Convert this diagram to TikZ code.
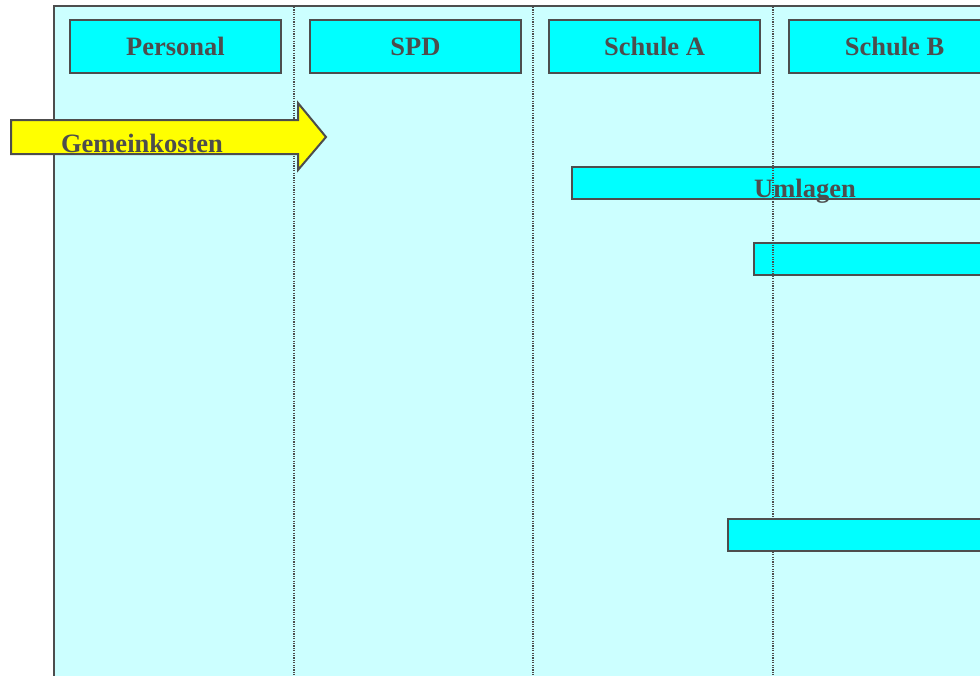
\documentclass[tikz,border=0pt]{standalone}
\usepackage{fontspec}
\setmainfont{Liberation Serif}
\definecolor{panel}{HTML}{CCFFFF}
\definecolor{boxcyan}{HTML}{00FFFF}
\definecolor{ink}{HTML}{4D4D4D}
\definecolor{arrowyellow}{HTML}{FFFF00}
\tikzset{
  lanebox/.style={draw=ink, line width=2pt, fill=boxcyan, rectangle, minimum width=211pt, minimum height=53pt, inner sep=0pt, anchor=north west,
    font=\fontsize{26.5}{30}\selectfont\bfseries, text=ink},
  bar/.style={draw=ink, line width=2pt, fill=boxcyan, rectangle, minimum height=32pt, inner sep=0pt, anchor=north west},
  lbl/.style={font=\fontsize{26.5}{30}\selectfont\bfseries, text=ink, inner sep=0pt},
  divider/.style={draw=ink, line width=1.3pt, dash pattern=on 1.2pt off 1.2pt}
}
\begin{document}
\begin{tikzpicture}[x=1pt,y=-1pt]
\useasboundingbox (0,0) rectangle (980,675);
\clip (0,0) rectangle (980,675);
% panel
\fill[panel] (54,6) rectangle (1000,700);
\draw[ink, line width=2pt] (54,700) -- (54,6) -- (1000,6);
% headers
\node[lanebox] (personal) at (69,19) {Personal};
\node[lanebox] (spd) at (309,19) {SPD};
\node[lanebox] (schuleA) at (548,19) {Schule A};
\node[lanebox] (schuleB) at (788,19) {Schule B};
% bars under the dividers
\node[bar, minimum width=470pt] (umlagen) at (571,166) {};
\node[bar, minimum width=300pt] (bar2) at (753,242) {};
% dividers
\coordinate (d1t) at (294,7); \coordinate (d1b) at (294,675);
\coordinate (d2t) at (533,7); \coordinate (d2b) at (533,675);
\coordinate (d3t) at (773,7); \coordinate (d3b) at (773,675);
\draw[divider] (d1t) -- (d1b);
\draw[divider] (d2t) -- (d2b);
\draw[divider] (d3t) -- (d3b);
% label and bar above the dividers
\node[lbl, anchor=base] (umlagenlbl) at (805,197) {Umlagen};
\node[bar, minimum width=300pt] (bar3) at (727,518) {};
% arrow
\draw[ink, line width=2pt, fill=arrowyellow, line join=miter]
  (11,120) -- (298,120) -- (298,103) -- (326,137) -- (298,170) -- (298,154) -- (11,154) -- cycle;
\node[lbl, anchor=base] (gemein) at (142,152) {Gemeinkosten};
\end{tikzpicture}
\end{document}
